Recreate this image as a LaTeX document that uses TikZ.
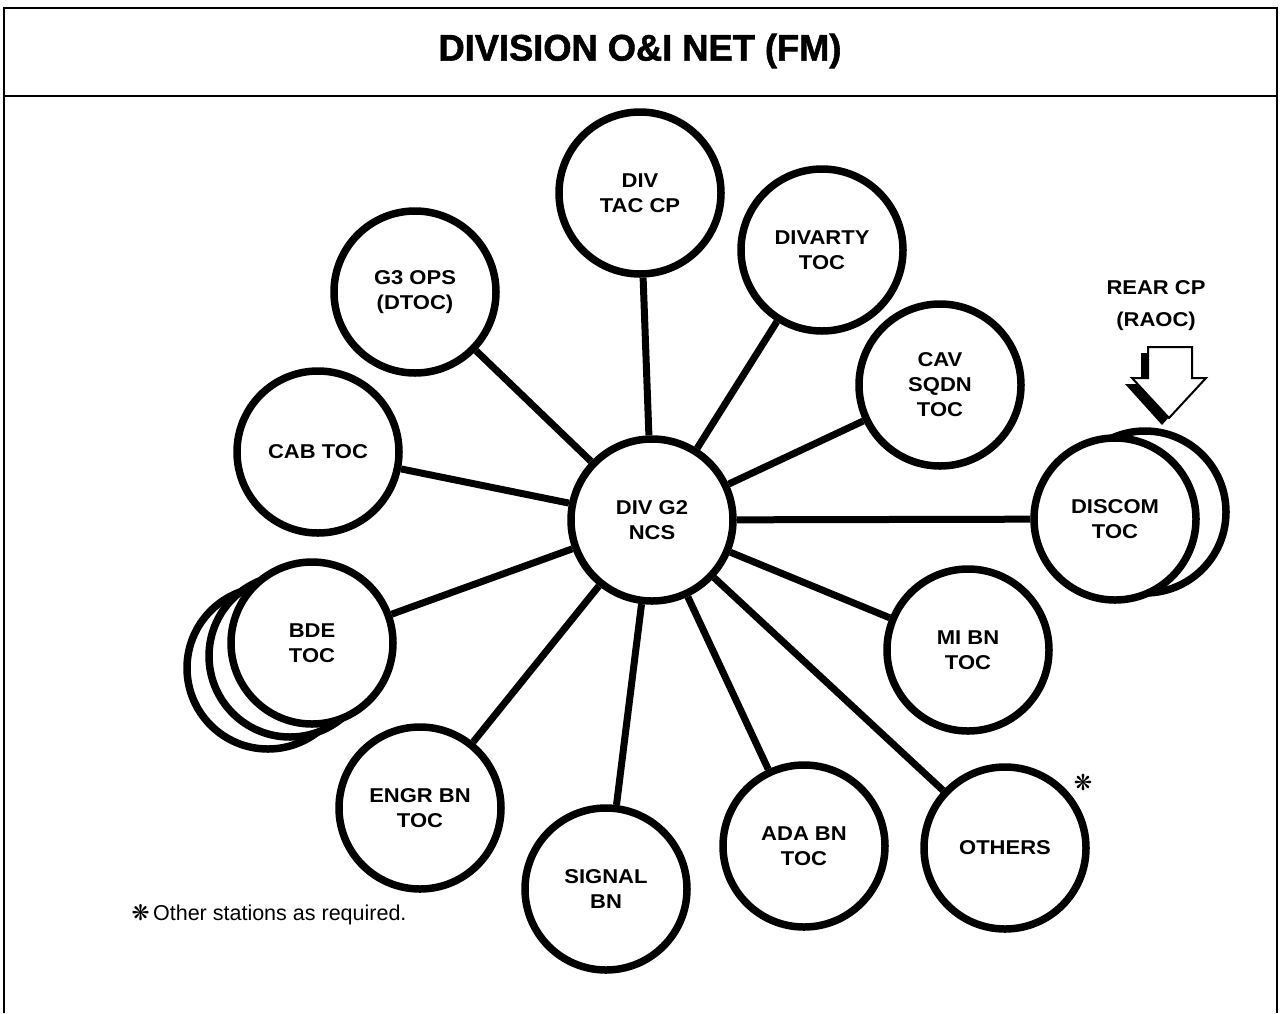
\documentclass[tikz,border=0pt]{standalone}
\usepackage{fontspec}
\setmainfont{Liberation Sans}
\newfontfamily\lblfont[FakeStretch=1.1]{Liberation Sans}
\newfontfamily\titlefont[FakeStretch=0.98,FakeBold=1.5]{Liberation Sans}
\newfontfamily\symfont{DejaVu Sans}
\begin{document}
\begin{tikzpicture}[x=1pt,y=-1pt,
  stn/.style={circle, draw, line width=7.5pt, fill=white, minimum size=162pt, inner sep=0pt, align=center,
    font=\lblfont\bfseries\fontsize{20}{25}\selectfont},
  link/.style={line width=7pt},
  frameline/.style={line width=2.5pt}]
\useasboundingbox (0,0) rectangle (1281,1013);
% frame
\draw[frameline] (4,1013) -- (4,8) -- (1277,8) -- (1277,1013);
\draw[frameline] (4,96) -- (1277,96);
\node (title) at (640,51) {\titlefont\bfseries\fontsize{37}{40}\selectfont DIVISION O\&I NET (FM)};
% stations
\node[stn] (ncs) at (652,520) {DIV G2\\NCS};
\node[stn] (tac) at (640,193) {DIV\\TAC CP};
\node[stn] (divarty) at (822,250) {DIVARTY\\TOC};
\node[stn] (g3) at (415,292) {G3 OPS\\(DTOC)};
\node[stn] (cav) at (940,385) {CAV\\SQDN\\TOC};
\node[stn] (cab) at (318,452) {CAB TOC};
\node[stn] (discom2) at (1145,512) {};
\node[stn] (discom) at (1115,519) {DISCOM\\TOC};
\node[stn] (bde3) at (268,668) {};
\node[stn] (bde2) at (290,656) {};
\node[stn] (bde) at (312,643) {BDE\\TOC};
\node[stn] (mi) at (968,650) {MI BN\\TOC};
\node[stn] (engr) at (420,808) {ENGR BN\\TOC};
\node[stn] (signal) at (606,889) {SIGNAL\\BN};
\node[stn] (ada) at (804,846) {ADA BN\\TOC};
\node[stn] (others) at (1005,848) {OTHERS};
% links
\foreach \t in {tac,divarty,g3,cav,cab,discom,bde,mi,engr,signal,ada,others}
  \draw[link] (ncs) -- (\t);
% rear CP arrow
\node[font=\lblfont\bfseries\fontsize{20}{32}\selectfont, align=center] (rear) at (1156,306) {REAR CP\\(RAOC)};
\fill (1141,353) -- (1185,353) -- (1185,384) -- (1198,384) -- (1162,425) -- (1125,384) -- (1141,384) -- cycle;
\draw[line width=2pt, fill=white, line join=miter] (1148,347) -- (1192,347) -- (1192,378) -- (1206,378) -- (1169,418) -- (1132,378) -- (1148,378) -- cycle;
% asterisks and note
\node[font=\symfont\fontsize{22}{22}\selectfont] (ast) at (1083,782) {❋};
\node[anchor=west, font=\fontsize{21.5}{24}\selectfont] (note) at (128,915) {{\symfont ❋}\,Other stations as required.};
\end{tikzpicture}
\end{document}
